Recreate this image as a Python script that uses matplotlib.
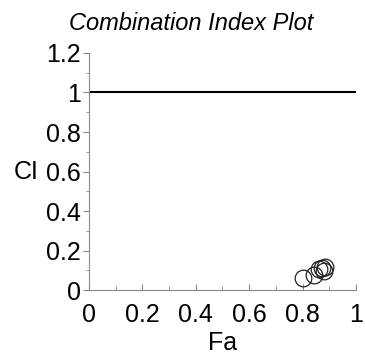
import numpy as np
import matplotlib
matplotlib.use("Agg")
import matplotlib.pyplot as plt
from matplotlib.ticker import MultipleLocator

plt.rcParams['font.family'] = ['Liberation Sans', 'DejaVu Sans']

# fraction affected vs combination index
fa = [0.800, 0.843, 0.860, 0.873, 0.880, 0.885]
ci = [0.063, 0.078, 0.105, 0.112, 0.098, 0.115]

x_ticks = [0, 0.2, 0.4, 0.6, 0.8, 1]
x_labels = ['0', '0.2', '0.4', '0.6', '0.8', '1']
y_ticks = [0, 0.2, 0.4, 0.6, 0.8, 1, 1.2]
y_labels = ['0', '0.2', '0.4', '0.6', '0.8', '1', '1.2']


def main():
    fig = plt.figure(figsize=(3.65, 3.6), dpi=100)
    ax = fig.add_axes([0.244, 0.194, 0.731, 0.659])

    ax.axhline(1.0, color='black', lw=1.5)
    ax.plot(fa, ci, 'o', ms=12, mfc='none', mec='#222222', mew=0.9)

    ax.set_xlim(0, 1)
    ax.set_ylim(0, 1.2)
    ax.set_xticks(x_ticks)
    ax.set_xticklabels(x_labels)
    ax.set_yticks(y_ticks)
    ax.set_yticklabels(y_labels)
    ax.xaxis.set_minor_locator(MultipleLocator(0.1))
    ax.yaxis.set_minor_locator(MultipleLocator(0.1))

    for s in ['top', 'right']:
        ax.spines[s].set_visible(False)
    for s in ['left', 'bottom']:
        ax.spines[s].set_color('#888888')
        ax.spines[s].set_linewidth(0.8)

    fs = 18
    ax.tick_params(axis='x', which='major', direction='in', length=4, color='#888888',
                   labelsize=fs, pad=9)
    ax.tick_params(axis='x', which='minor', direction='in', length=3, color='#888888')
    ax.tick_params(axis='y', which='major', direction='out', length=4, color='#888888',
                   labelsize=fs, pad=2)
    ax.tick_params(axis='y', which='minor', direction='out', length=2, color='#888888')

    ax.set_xlabel('Fa', fontsize=fs, labelpad=3)
    ax.set_ylabel('CI', fontsize=fs, rotation=0, va='center', ha='right')
    ax.yaxis.set_label_coords(-0.19, 0.5)

    fig.text(0.525, 0.936, 'Combination Index Plot', fontsize=17, style='italic',
             ha='center', va='center')

    fig.savefig('out.png', dpi=100)


if __name__ == "__main__":
    main()
